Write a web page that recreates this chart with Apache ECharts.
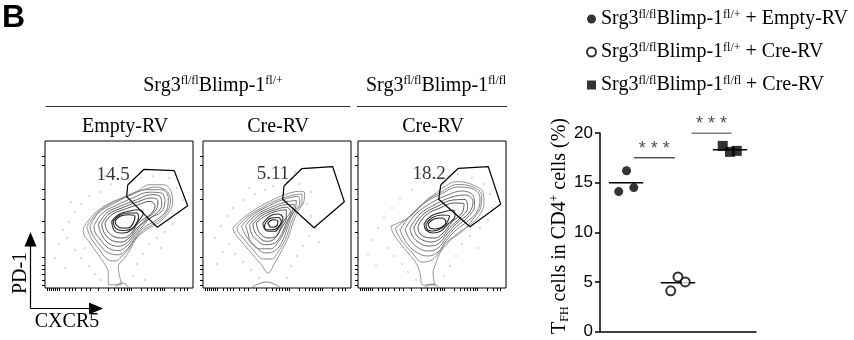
<!DOCTYPE html>
<html>
<head>
<meta charset="utf-8">
<script src="https://cdn.jsdelivr.net/npm/echarts@6/dist/echarts.min.js"></script>
<style>
  html, body { margin: 0; padding: 0; background: #fff; }
  #main { width: 854px; height: 340px; }
</style>
</head>
<body>
<div id="main"></div>
<script>
// ---- dot plot data (TFH cells in CD4+ cells, %) ----
var groups = [
  'Srg3fl/flBlimp-1fl/+ + Empty-RV',
  'Srg3fl/flBlimp-1fl/+ + Cre-RV',
  'Srg3fl/flBlimp-1fl/fl + Cre-RV'
];
var legendLabels = [
  'Srg3{sup|fl/fl}Blimp-1{sup|fl/+} + Empty-RV',
  'Srg3{sup|fl/fl}Blimp-1{sup|fl/+} + Cre-RV',
  'Srg3{sup|fl/fl}Blimp-1{sup|fl/fl} + Cre-RV'
];
var tfhEmpty = [16.2, 14.1, 14.5];
var xEmpty = [1.01, 0.86, 1.15];
var tfhCre = [5.5, 4.1, 5.0];
var xCre = [2.0, 1.86, 2.14];
var tfhFlfl = [18.7, 18.1, 18.2];
var xFlfl = [2.86, 3.0, 3.13];
var tfhMeans = [15.0, 4.9, 18.3];
var sigBars = [[1.15, 1.94, 17.5], [2.26, 3.03, 20.0]];
var sigText = '* * *';

// ---- flow panels (coordinates in panel units, origin bottom-left) ----
var panelTitles = ['Empty-RV', 'Cre-RV', 'Cre-RV'];
var gatePct = ['14.5', '5.11', '18.2'];
var gatePctPos = [[68, 113], [70, 114], [71, 114]];
var gates = [
  [[82.7, 103], [99, 118.7], [129.3, 117.3], [142.7, 82.3], [112.3, 60.7], [81.7, 91.3]],
  [[81, 102], [98.7, 119.3], [129.7, 121.3], [141.3, 86.3], [111, 60.3], [79.7, 88.7]],
  [[82.7, 103], [100.3, 119.7], [130.3, 121.3], [142.7, 83.7], [112, 61.3], [80.7, 88.7]]
];
// contour rings, outermost first
var contours1 = [
  [[38.3, 60], [48.3, 73.3], [61.7, 83.3], [76.7, 90], [91.7, 96.7], [105, 103.3], [118.3, 103.3], [126.7, 95], [127.7, 85], [123.3, 75], [113.3, 65], [101.7, 58.3], [91.7, 50], [85, 38.3], [78.3, 28.3], [73.3, 21.7], [74.3, 13.3], [76.7, 3.3], [63.3, 3.3], [63.3, 15], [60, 23.3], [53.3, 33.3], [45, 45], [38.3, 56.7]],
  [[41.7, 61], [51, 74], [64, 83.5], [80, 91], [96.5, 97.5], [111, 101], [121.5, 97], [125.5, 88], [122.5, 77], [112.5, 66.5], [100, 59], [91, 50], [84, 39.5], [76, 31], [70, 27], [62, 29], [54, 39], [46, 50]],
  [[45, 61.7], [53.3, 75], [66.7, 83.3], [83.3, 91.7], [101.7, 98.3], [116.7, 98.3], [123.3, 90], [121.7, 78.3], [111.7, 68.3], [98.3, 60], [90, 50], [83.3, 40], [73.3, 33.3], [63.3, 35], [53.3, 45], [46.7, 55]],
  [[49, 62.5], [57.5, 75], [71, 82.5], [87.5, 90], [104, 95.8], [116, 95], [120, 86.7], [116, 76], [105, 70], [98.3, 62.5], [90, 52.5], [82.5, 42.5], [73.3, 37.5], [63.3, 40], [55, 49], [50, 56]],
  [[53.3, 63.3], [61.7, 75], [75, 81.7], [91.7, 88.3], [106.7, 93.3], [115, 91.7], [116.7, 83.3], [110, 73.3], [98.3, 65], [90, 55], [81.7, 45], [73.3, 41.7], [63.3, 45], [56.7, 53.3]],
  [[56.7, 64], [64, 74], [76.7, 80], [92.5, 86], [106, 90], [113, 87], [111, 78], [101.5, 69], [92, 60], [84, 50], [76, 46], [66, 48], [59, 55.5]],
  [[60, 65], [66.7, 73.3], [78.3, 78.3], [93.3, 83.3], [105, 86.7], [110, 81.7], [105, 73.3], [93.3, 65], [86.7, 55], [78.3, 50], [68.3, 51.7], [61.7, 58.3]],
  [[66.7, 66.7], [73.3, 73.3], [83.3, 76.7], [93.3, 78.3], [98.3, 75], [93.3, 66.7], [86.7, 58.3], [78.3, 55], [70, 56.7]],
  [[68, 66.5], [74, 72.5], [83.3, 75], [91.7, 75], [93.5, 70], [90, 62.5], [85, 58.5], [77.5, 57.5], [70.8, 59.7]],
  [[70, 66.7], [75, 71.7], [83.3, 73.3], [90, 71.7], [88.3, 65], [83.3, 60], [76.7, 60], [71.7, 62.7]]
];
var contours2 = [
  [[30, 60], [38.3, 68.3], [51.7, 78.3], [66.7, 86.7], [81.7, 93.3], [96.7, 96.7], [101.7, 95], [101, 86.7], [95, 76.7], [90, 65], [85, 50], [78.3, 36.7], [71.7, 25], [65, 15], [58.3, 23.3], [48.3, 35], [38.3, 46.7], [31.7, 55]],
  [[34, 61], [44, 70.8], [58.3, 80], [73.3, 87.5], [88.3, 92.5], [99, 94], [99, 86], [92.5, 76], [87.5, 63.3], [82.5, 49], [76, 37.5], [68.3, 29], [60.8, 29], [50, 38.3], [40.8, 49.2], [35, 56.5]],
  [[38.3, 61.7], [50, 73.3], [65, 81.7], [80, 88.3], [95, 91.7], [96.7, 85], [90, 75], [85, 61.7], [80, 48.3], [73.3, 38.3], [63.3, 35], [51.7, 41.7], [43.3, 51.7]],
  [[42.5, 62.5], [53.3, 73.3], [67.5, 80.5], [81.7, 85.8], [93.3, 87.5], [92.5, 80], [86.7, 70], [81.7, 57.5], [75.8, 46.7], [67.5, 39.2], [57.5, 39.2], [47.5, 46.7], [45, 55]],
  [[46.7, 63.3], [56.7, 73.3], [70, 79.3], [83.3, 83.3], [91.7, 83.3], [88.3, 75], [83.3, 65], [78.3, 53.3], [71.7, 45], [61.7, 43.3], [53.3, 48.3], [48.3, 55]],
  [[50, 64], [59, 72.5], [71.7, 78], [83.3, 80.8], [87.5, 76.7], [81, 67.5], [76, 56.7], [70, 48], [63.3, 46.7], [55, 51.7], [51, 58.3]],
  [[53.3, 65], [61.7, 71.7], [73.3, 76.7], [83.3, 78.3], [83.3, 70], [78.3, 60], [73.3, 51.7], [65, 50], [56.7, 55]],
  [[60, 65], [66.7, 71.7], [75, 74], [80, 70], [76.7, 61.7], [71.7, 56.7], [65, 56.7], [61, 60]],
  [[62.5, 65], [68.3, 70], [75, 70.5], [78.3, 66.7], [74.2, 60], [69, 58.3], [63.3, 58.3], [61.5, 61.5]],
  [[65, 65], [70, 68.3], [75, 66.7], [73.3, 61.7], [68.3, 60.7]]
];
var contours3 = [
  [[33, 62], [52, 71.3], [68.7, 88], [82, 98], [83.7, 99.7], [98.7, 106.3], [115.3, 103], [125.3, 94.7], [126, 84.7], [120.3, 71.3], [112, 63], [100, 55], [90, 45], [82, 35], [78, 25], [75, 15], [77, 3], [65, 3], [62, 15], [58, 25], [50, 35], [42, 45], [35, 55]],
  [[37.5, 60], [52, 72], [68, 87], [84, 96.5], [99.3, 103.5], [115, 101], [123.7, 92.5], [123, 81.5], [115, 69], [104, 56.5], [89, 46], [81, 35.5], [74, 28], [64, 26], [54, 35.5], [45, 45.5], [38.5, 56]],
  [[42, 58], [52, 72], [68, 86], [85, 95], [100, 101], [115, 99], [122, 90], [120, 78], [110, 67], [98, 58], [88, 47], [80, 36], [70, 32], [58, 36], [48, 46]],
  [[47, 59], [57, 73], [73, 85], [89.5, 93], [104, 97], [115, 92.5], [116.5, 82.5], [110, 71], [98.5, 61.5], [88.5, 50.5], [80, 40], [70, 37], [59, 41], [51, 49.5]],
  [[52, 60], [62, 74], [78, 84], [94, 91], [108, 93], [115, 86], [111, 75], [99, 65], [89, 54], [80, 44], [70, 42], [60, 46], [54, 53]],
  [[56, 61], [65, 73.5], [80, 82], [95, 88], [107, 88.5], [109.5, 80], [102, 70], [91.5, 60], [83, 50], [73.5, 46], [63.5, 48.5], [57.5, 54.5]],
  [[60, 62], [68, 73], [82, 80], [96, 85], [106, 84], [104, 75], [94, 66], [86, 56], [77, 50], [67, 51], [61, 56]],
  [[66, 64], [73, 72], [85, 76], [95, 78], [97, 72], [90, 64], [83, 57], [75, 55], [68, 58]],
  [[68, 64], [74.5, 70.5], [84.5, 73], [91.5, 72], [87, 62.5], [80, 58], [74, 57], [69, 59]],
  [[70, 64], [76, 69], [84, 70], [88, 66], [84, 61], [77, 59], [72, 60]]
];
var blobs = [
  [[70, 0], [73, 3.5], [77, 5], [81, 3.5], [84, 0]],
  [[48, 0], [55, 4], [63, 6], [71, 4], [78, 0]],
  [[66, 0], [70, 3], [74, 4], [78, 3], [81, 0]]
];
var dots1 = [[14, 44], [18, 58], [24, 66], [22, 50], [30, 76], [36, 84], [44, 92], [56, 96], [66, 104], [30, 38], [36, 30], [44, 22], [50, 14], [56, 8], [88, 12], [92, 24], [98, 34], [104, 44], [112, 50], [120, 56], [128, 64], [134, 76], [138, 88], [132, 100], [124, 110], [108, 112], [96, 110], [84, 108], [10, 30], [20, 20], [40, 40], [26, 86], [100, 8], [116, 40], [60, 112]];
var dots2 = [[12, 50], [18, 62], [24, 72], [30, 80], [40, 88], [52, 94], [62, 98], [70, 102], [26, 44], [32, 34], [40, 26], [48, 18], [56, 10], [84, 10], [88, 22], [94, 32], [100, 42], [106, 52], [112, 60], [108, 72], [104, 84], [108, 96], [96, 104], [84, 106], [20, 36], [14, 24], [46, 100], [116, 46], [76, 110], [92, 116]];
var dots3 = [[14, 48], [20, 60], [26, 70], [34, 80], [42, 90], [54, 98], [66, 106], [78, 110], [30, 40], [36, 32], [44, 24], [50, 16], [58, 8], [86, 12], [92, 22], [98, 32], [104, 44], [112, 52], [122, 60], [130, 68], [134, 80], [132, 94], [126, 104], [114, 110], [100, 114], [90, 112], [10, 34], [18, 22], [62, 114], [120, 40]];
var pdTicks = [3, 8, 14, 19, 23, 31, 56, 67, 89, 99, 123, 132];
var cxTicks = [2, 4, 6, 8, 10, 12, 14, 20, 24, 27, 30, 36, 41, 45, 53, 63, 69, 73, 76, 79, 82, 84, 86, 96, 102, 106, 109, 112, 115, 117, 119, 129, 135, 139, 142];

var SERIF = "'Liberation Serif', 'Times New Roman', serif";
var SANS = "'Liberation Sans', Arial, sans-serif";
var panelLefts = [45, 203, 358];
var levelColors = ['#8a8a8a', '#808080', '#747474', '#686868', '#5a5a5a', '#4c4c4c', '#3e3e3e', '#303030', '#242424', '#181818'];

function closeRing(ring) {
  return ring.concat([ring[0]]);
}

function zip(xs, ys) {
  return xs.map(function (x, i) { return [x, ys[i]]; });
}

var grids = [], xAxes = [], yAxes = [], series = [];
var allContours = [contours1, contours2, contours3];
var allDots = [dots1, dots2, dots3];

for (var p = 0; p < 3; p++) {
  grids.push({
    left: panelLefts[p], top: 141, width: 148, height: 147,
    show: true, borderColor: '#000', borderWidth: 1, backgroundColor: '#fff'
  });
  xAxes.push({
    gridIndex: p, type: 'value', min: 0, max: 148,
    axisLine: { show: false }, axisLabel: { show: false }, splitLine: { show: false },
    axisTick: { show: true, length: 3, customValues: cxTicks, lineStyle: { color: '#000' } }
  });
  yAxes.push({
    gridIndex: p, type: 'value', min: 0, max: 147,
    axisLine: { show: false }, axisLabel: { show: false }, splitLine: { show: false },
    axisTick: { show: true, length: 3, customValues: pdTicks, lineStyle: { color: '#000' } }
  });
  series.push({
    type: 'scatter', xAxisIndex: p, yAxisIndex: p, symbolSize: 1.6, silent: true,
    itemStyle: { color: '#9a9a9a' }, data: allDots[p]
  });
  allContours[p].forEach(function (ring, lvl) {
    series.push({
      type: 'line', xAxisIndex: p, yAxisIndex: p, smooth: 0.4, symbol: 'none', silent: true,
      lineStyle: { color: levelColors[lvl], width: lvl > 6 ? 1.1 : 0.9 }, data: closeRing(ring)
    });
  });
  series.push({
    type: 'line', xAxisIndex: p, yAxisIndex: p, smooth: 0.4, symbol: 'none', silent: true,
    lineStyle: { color: '#777', width: 0.9 }, data: blobs[p]
  });
  series.push({
    type: 'line', xAxisIndex: p, yAxisIndex: p, symbol: 'none', silent: true,
    lineStyle: { color: '#000', width: 1.2 }, data: closeRing(gates[p])
  });
  series.push({
    type: 'scatter', xAxisIndex: p, yAxisIndex: p, symbolSize: 0, silent: true,
    label: {
      show: true, position: 'inside', formatter: gatePct[p],
      fontFamily: SERIF, fontSize: 19, color: '#000'
    },
    data: [gatePctPos[p]]
  });
}

// dot plot grid
grids.push({ left: 600, top: 133, width: 156, height: 200 });
xAxes.push({
  gridIndex: 3, type: 'category', data: ['', '', ''],
  axisLine: { lineStyle: { color: '#000', width: 1.5 } },
  axisTick: { alignWithLabel: true, interval: 0, length: 5, lineStyle: { color: '#000', width: 1.5 } },
  axisLabel: { show: false }
});
xAxes.push({
  gridIndex: 3, type: 'value', min: 0.5, max: 3.5, show: false
});
yAxes.push({
  gridIndex: 3, type: 'value', min: 0, max: 20, interval: 5,
  axisLine: { show: true, lineStyle: { color: '#000', width: 1.5 } },
  axisTick: { show: true, length: 5, lineStyle: { color: '#000', width: 1.5 } },
  axisLabel: { fontFamily: SANS, fontSize: 17, color: '#000', margin: 7 },
  splitLine: { show: false }
});

var dotStyles = [
  { symbol: 'circle', itemStyle: { color: '#000' }, xs: xEmpty, ys: tfhEmpty },
  { symbol: 'circle', itemStyle: { color: '#fff', borderColor: '#000', borderWidth: 2 }, xs: xCre, ys: tfhCre },
  { symbol: 'rect', itemStyle: { color: '#000' }, xs: xFlfl, ys: tfhFlfl }
];

tfhMeans.forEach(function (m, i) {
  series.push({
    type: 'line', xAxisIndex: 4, yAxisIndex: 3, symbol: 'none', silent: true, z: 1,
    lineStyle: { color: '#000', width: 1.5 },
    data: [[i + 1 - 0.33, m], [i + 1 + 0.33, m]]
  });
});

dotStyles.forEach(function (d, i) {
  series.push({
    name: groups[i], type: 'scatter', xAxisIndex: 4, yAxisIndex: 3, z: 3,
    symbol: d.symbol, symbolSize: i === 2 ? 10 : 9, itemStyle: d.itemStyle,
    data: zip(d.xs, d.ys)
  });
});

sigBars.forEach(function (b) {
  series.push({
    type: 'line', xAxisIndex: 4, yAxisIndex: 3, symbol: 'none', silent: true,
    lineStyle: { color: '#000', width: 1 }, data: [[b[0], b[2]], [b[1], b[2]]]
  });
  series.push({
    type: 'scatter', xAxisIndex: 4, yAxisIndex: 3, symbolSize: 0, silent: true, clip: false,
    label: {
      show: true, position: 'top', distance: 0, formatter: sigText,
      fontFamily: SANS, fontSize: 18, color: '#222'
    },
    data: [[(b[0] + b[1]) / 2, b[2]]]
  });
});

var supRich = {
  sup: { fontFamily: SERIF, fontSize: 12, lineHeight: 12, verticalAlign: 'top' },
  sub: { fontFamily: SERIF, fontSize: 12, lineHeight: 12, verticalAlign: 'bottom' }
};

function headerText(x, y, text) {
  return {
    type: 'text', x: x, y: y,
    style: {
      text: text, font: '20px ' + SERIF, fill: '#000',
      textAlign: 'center', textVerticalAlign: 'middle',
      align: 'center', verticalAlign: 'middle',
      lineHeight: 22, rich: supRich
    }
  };
}

var graphics = [
  { type: 'text', x: 2, y: 2, style: { text: 'B', font: 'bold 32px ' + SANS, fill: '#000' } },
  headerText(213, 86, 'Srg3{sup|fl/fl}Blimp-1{sup|fl/+}'),
  headerText(436, 86, 'Srg3{sup|fl/fl}Blimp-1{sup|fl/fl}'),
  { type: 'line', shape: { x1: 45.5, y1: 106.5, x2: 350.5, y2: 106.5 }, style: { stroke: '#333', lineWidth: 1 } },
  { type: 'line', shape: { x1: 357, y1: 106.5, x2: 507, y2: 106.5 }, style: { stroke: '#333', lineWidth: 1 } },
  headerText(125, 127, panelTitles[0]),
  headerText(278, 127, panelTitles[1]),
  headerText(433, 127, panelTitles[2]),
  // y title of the dot plot
  {
    type: 'text', x: 560, y: 226, rotation: Math.PI / 2,
    style: {
      text: 'T{sub|FH} cells in CD4{sup|+} cells (%)', font: '20px ' + SERIF, fill: '#000',
      textAlign: 'center', textVerticalAlign: 'middle', align: 'center', verticalAlign: 'middle',
      lineHeight: 22, rich: supRich
    }
  },
  // axis arrows
  { type: 'line', shape: { x1: 30.5, y1: 308.5, x2: 30.5, y2: 244 }, style: { stroke: '#000', lineWidth: 1.2 } },
  { type: 'polygon', shape: { points: [[30.5, 232], [24.5, 246.5], [36.5, 246.5]] }, style: { fill: '#000' } },
  { type: 'line', shape: { x1: 30.5, y1: 308.5, x2: 92, y2: 308.5 }, style: { stroke: '#000', lineWidth: 1.2 } },
  { type: 'polygon', shape: { points: [[103, 308.5], [89, 302.5], [89, 314.5]] }, style: { fill: '#000' } },
  {
    type: 'text', x: 21, y: 273, rotation: Math.PI / 2,
    style: {
      text: 'PD-1', font: '20px ' + SERIF, fill: '#000',
      textAlign: 'center', textVerticalAlign: 'middle', align: 'center', verticalAlign: 'middle'
    }
  },
  {
    type: 'text', x: 67, y: 322,
    style: {
      text: 'CXCR5', font: '20px ' + SERIF, fill: '#000',
      textAlign: 'center', textVerticalAlign: 'middle', align: 'center', verticalAlign: 'middle'
    }
  }
];

var myChart = echarts.init(document.getElementById('main'), null, { renderer: 'canvas' });
myChart.setOption({
  animation: false,
  backgroundColor: '#fff',
  grid: grids,
  xAxis: xAxes,
  yAxis: yAxes,
  legend: {
    data: groups, orient: 'vertical', left: 581, top: 4,
    itemWidth: 9, itemHeight: 9, itemGap: 13,
    formatter: function (name) {
      return legendLabels[groups.indexOf(name)];
    },
    textStyle: {
      fontFamily: SERIF, fontSize: 20, lineHeight: 20, color: '#000',
      rich: { sup: { fontFamily: SERIF, fontSize: 12, lineHeight: 12, verticalAlign: 'top' } }
    }
  },
  graphic: graphics,
  series: series
});
</script>
</body>
</html>
